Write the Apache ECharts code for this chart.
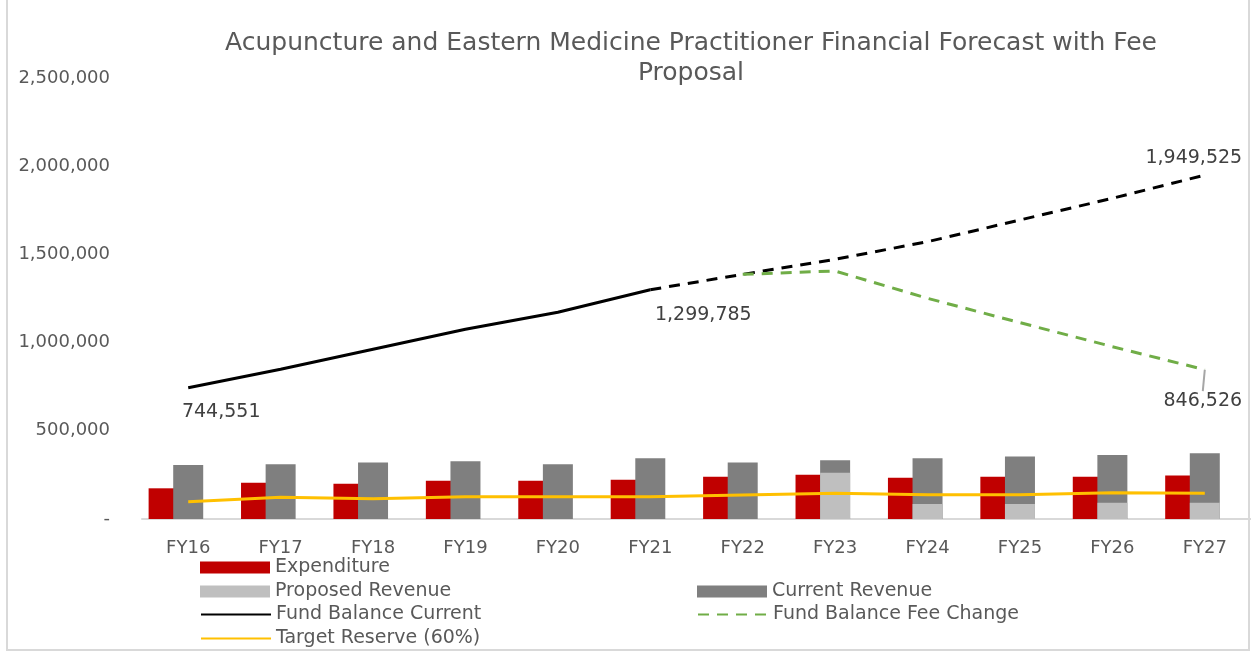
<!DOCTYPE html>
<html>
<head>
<meta charset="utf-8">
<script src="https://cdn.jsdelivr.net/npm/echarts@6/dist/echarts.min.js"></script>
<style>
  html, body { margin: 0; padding: 0; background: #fff; }
  #main { width: 1251px; height: 658px; }
</style>
</head>
<body>
<div id="main"></div>
<script>
// values
var categories = ['FY16', 'FY17', 'FY18', 'FY19', 'FY20', 'FY21', 'FY22', 'FY23', 'FY24', 'FY25', 'FY26', 'FY27'];
var expenditure = [174000, 206000, 200000, 217000, 217000, 223000, 240000, 251000, 234000, 240000, 240000, 246000];
var currentRevenue = [306000, 310000, 321000, 327000, 310000, 344000, 321000, 333000, 344000, 355000, 363000, 373000];
var proposedRevenue = [null, null, null, null, null, null, null, 262000, 85000, 85000, 92000, 92000];
var fundBalanceCurrent = [744551, 849000, 962000, 1076000, 1172000, 1299785, 1387000, 1472000, 1572000, 1695000, 1818000, 1949525];
var fundBalanceFeeChange = [null, null, null, null, null, null, 1387000, 1406000, 1251000, 1113000, 977000, 846526];
var targetReserve = [98000, 123000, 115000, 126000, 126000, 126000, 136000, 146000, 138000, 138000, 149000, 146000];
var lastActual = 5; // FY21: solid up to here, dashed after

var font = 'DejaVu Sans';
var grey = '#595959';

function fmt(v) { return v.toLocaleString('en-US'); }

// puts a value label on chosen points of a line
function withLabels(values, labels) {
  return values.map(function (v, i) {
    if (v == null || !labels[i]) return v;
    return {
      value: v,
      symbol: 'circle',
      symbolSize: 0.1,
      label: {
        show: true, position: 'inside', offset: labels[i],
        formatter: function (p) { return fmt(p.value); },
        color: '#404040', fontSize: 19, fontFamily: font
      }
    };
  });
}

var solidPart = fundBalanceCurrent.map(function (v, i) { return i <= lastActual ? v : null; });
var dashedPart = fundBalanceCurrent.map(function (v, i) { return i >= lastActual ? v : null; });

function legendAt(name, left, top, isBar) {
  var l = {
    data: [name], left: left, top: top, padding: 0,
    itemWidth: 70, itemHeight: 12,
    textStyle: { color: grey, fontSize: 19, fontFamily: font }
  };
  if (isBar) l.icon = 'rect';
  else l.itemStyle = { opacity: 0 }; // hide the dot, keep the line
  return l;
}

var myChart = echarts.init(document.getElementById('main'));
var option = {
  animation: false,
  title: {
    text: 'Acupuncture and Eastern Medicine Practitioner Financial Forecast with Fee\nProposal',
    left: 686, top: 23, textAlign: 'center',
    textStyle: { color: grey, fontSize: 25, fontWeight: 'normal', fontFamily: font, lineHeight: 30 }
  },
  graphic: [{
    type: 'rect', silent: true,
    shape: { x: 7, y: -2, width: 1242, height: 652 },
    style: { fill: 'none', stroke: '#d9d9d9', lineWidth: 2 }
  }],
  legend: [
    legendAt('Expenditure', 200, 558, true),
    legendAt('Proposed Revenue', 200, 582, true),
    legendAt('Current Revenue', 697, 582, true),
    legendAt('Fund Balance Current', 200, 605),
    legendAt('Fund Balance Fee Change', 697, 605),
    legendAt('Target Reserve (60%)', 200, 629)
  ],
  grid: { left: 142, right: -2, top: 78, bottom: 139 },
  xAxis: [{
    type: 'category',
    data: categories,
    axisLine: { lineStyle: { color: '#d9d9d9', width: 2 } },
    axisTick: { length: 6, lineStyle: { color: '#d9d9d9', width: 2 } },
    axisLabel: { color: grey, fontSize: 18, fontFamily: font, margin: 20 }
  }, {
    type: 'category',
    data: categories,
    show: false
  }],
  yAxis: {
    type: 'value',
    min: 0, max: 2500000, interval: 500000,
    splitLine: { show: false },
    axisLine: { show: false },
    axisTick: { show: false },
    axisLabel: {
      color: grey, fontSize: 18, fontFamily: font, margin: 32,
      formatter: function (v) { return v === 0 ? '-' : fmt(v); }
    }
  },
  series: [
    {
      name: 'Expenditure', type: 'bar', data: expenditure,
      barWidth: 30, barGap: '-18%',
      itemStyle: { color: '#C00000' }
    },
    {
      name: 'Current Revenue', type: 'bar', data: currentRevenue,
      barWidth: 30, barGap: '-18%',
      itemStyle: { color: '#7F7F7F' }
    },
    {
      // empty third slot that Excel keeps in each cluster
      name: 'spacer', type: 'bar', data: categories.map(function () { return null; }),
      barWidth: 30, barGap: '-18%'
    },
    {
      name: 'Proposed Revenue', type: 'bar', data: proposedRevenue,
      xAxisIndex: 1, barWidth: 30,
      itemStyle: { color: '#BFBFBF' }
    },
    {
      name: 'Target Reserve (60%)', type: 'line', data: targetReserve,
      symbol: 'none',
      lineStyle: { color: '#FFC000', width: 3 },
      itemStyle: { color: '#FFC000' }
    },
    {
      name: 'Fund Balance Current', type: 'line',
      data: withLabels(solidPart, { 0: [33, 24], 5: [53, 25] }),
      symbol: 'none',
      lineStyle: { color: '#000000', width: 3 },
      itemStyle: { color: '#000000' }
    },
    {
      name: 'Fund Balance Current', type: 'line',
      data: withLabels(dashedPart, { 11: [-11, -17] }),
      symbol: 'none',
      lineStyle: { color: '#000000', width: 3, type: [11, 8] },
      itemStyle: { color: '#000000' }
    },
    {
      name: 'Fund Balance Fee Change', type: 'line',
      data: withLabels(fundBalanceFeeChange, { 11: [0, 0] }),
      symbol: 'none',
      lineStyle: { color: '#70AD47', width: 3, type: [11, 8] },
      itemStyle: { color: '#70AD47' },
      labelLayout: { dx: -2, dy: 31 },
      labelLine: { show: true, lineStyle: { color: '#A6A6A6', width: 2 } }
    }
  ]
};
myChart.setOption(option);
</script>
</body>
</html>
